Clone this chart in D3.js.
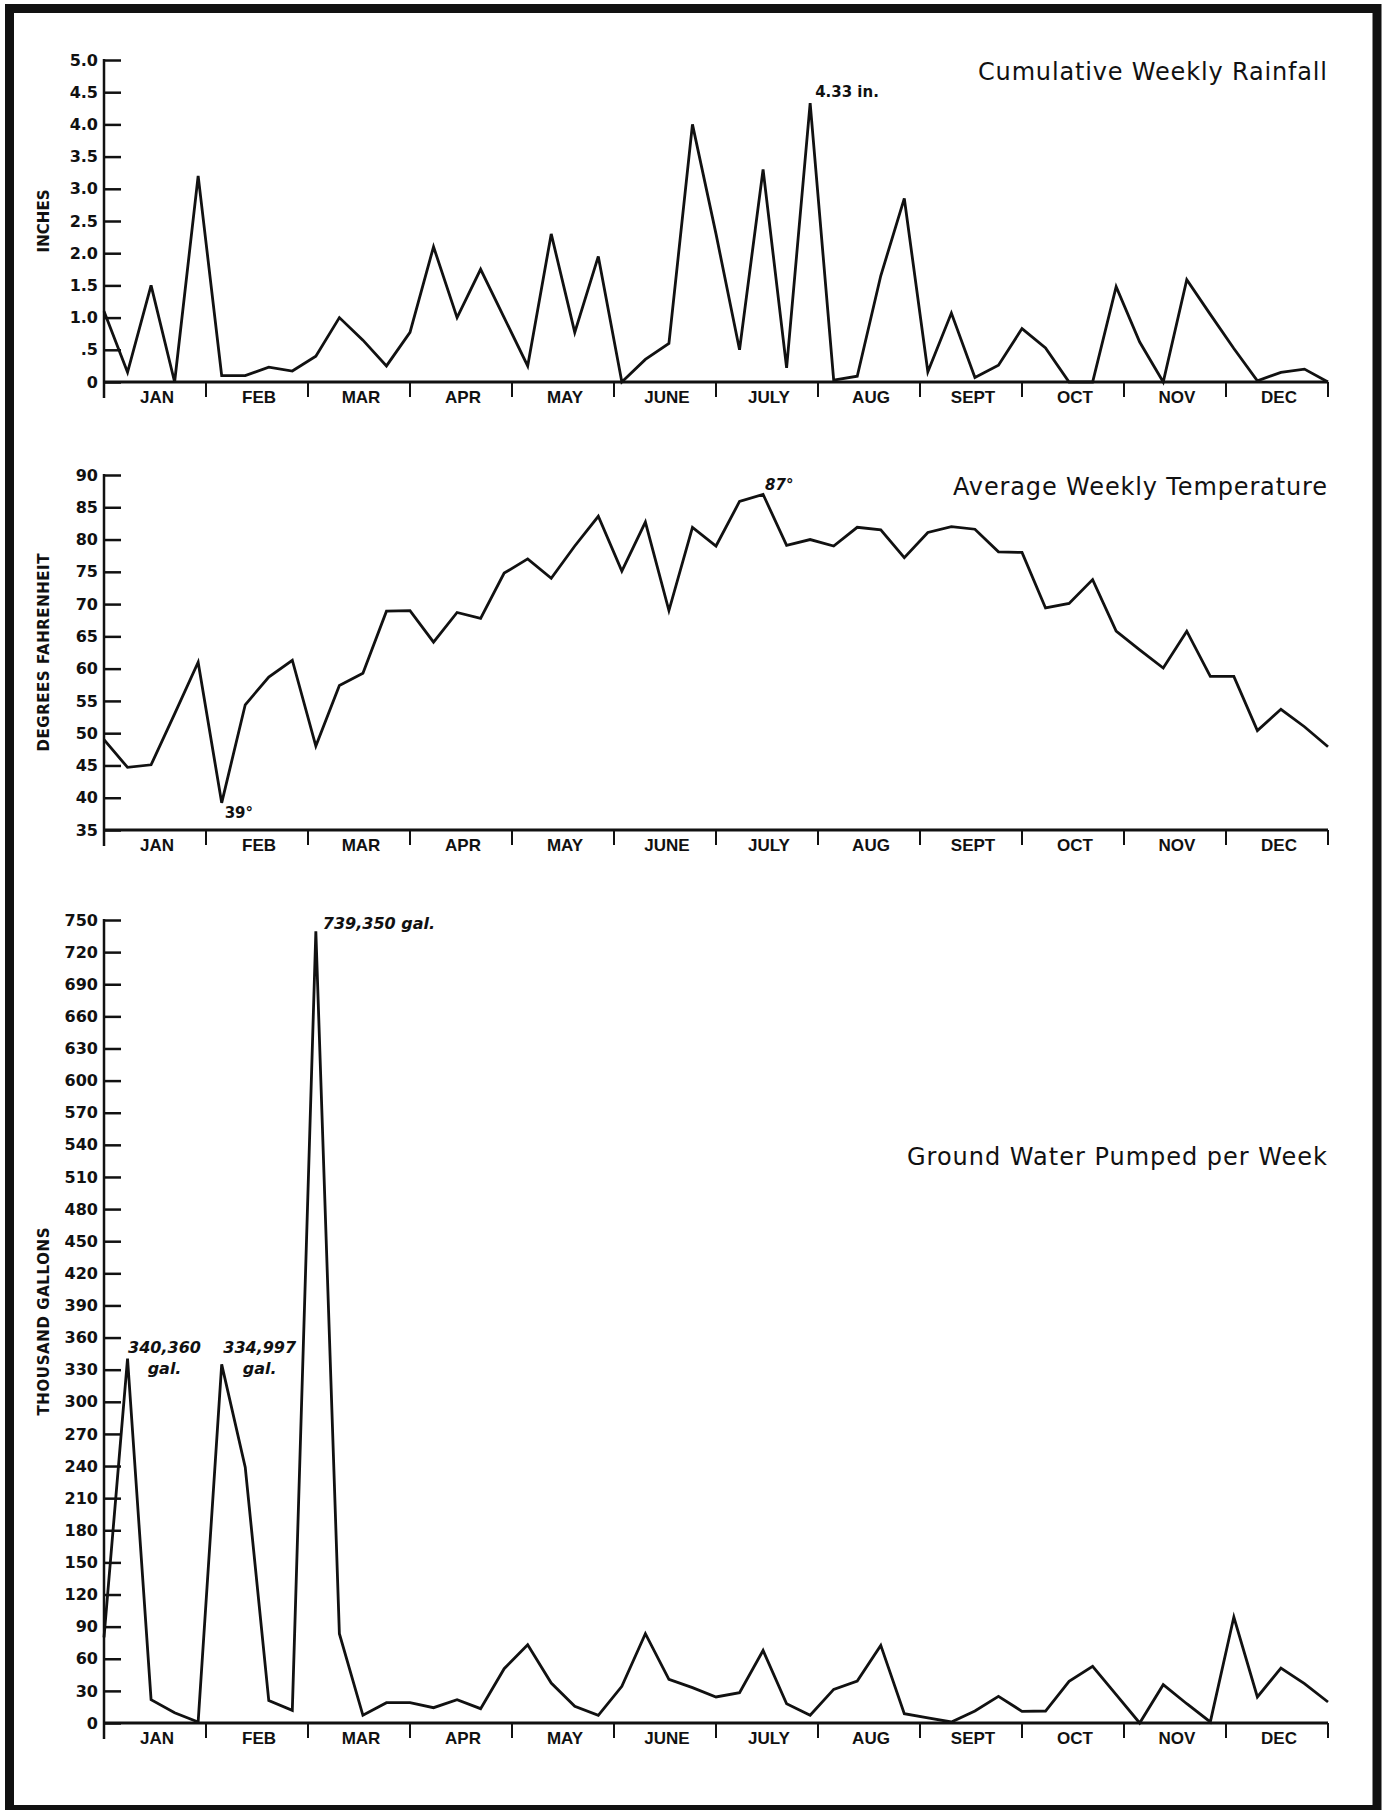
<!DOCTYPE html>
<html>
<head>
<meta charset="utf-8">
<script src="https://d3js.org/d3.v7.min.js"></script>
<style>
  body { margin: 0; background: #fff; }
  svg { display: block; }
  text { fill: #111; }
</style>
</head>
<body>
<svg id="chart" width="1385" height="1810"></svg>
<script>
// months along the bottom of every panel
var months = ["JAN", "FEB", "MAR", "APR", "MAY", "JUNE", "JULY", "AUG", "SEPT", "OCT", "NOV", "DEC"];

// weekly values, 53 points from the first of Jan to the end of Dec
var rainfall = [1.1, 0.15, 1.5, 0.0, 3.2, 0.1, 0.1, 0.23, 0.17, 0.4,
  1.0, 0.65, 0.25, 0.77, 2.1, 1.0, 1.75, 1.0, 0.25, 2.3,
  0.77, 1.95, 0.0, 0.35, 0.6, 4.0, 2.3, 0.5, 3.3, 0.22,
  4.33, 0.03, 0.09, 1.65, 2.85, 0.16, 1.07, 0.07, 0.26, 0.83,
  0.53, 0.0, 0.0, 1.48, 0.62, 0.0, 1.59, 1.05, 0.52, 0.02,
  0.15, 0.2, 0.0];

var temperature = [49, 44.7, 45.1, 53, 61, 39.2, 54.4, 58.7, 61.3, 48,
  57.4, 59.3, 68.9, 69, 64.1, 68.7, 67.8, 74.8, 77, 74,
  79, 83.6, 75.1, 82.7, 69, 81.9, 79, 85.9, 87, 79.1,
  80, 79, 81.9, 81.5, 77.2, 81.1, 82, 81.6, 78.1, 78,
  69.4, 70.1, 73.8, 65.8, 62.9, 60.1, 65.8, 58.8, 58.8, 50.4,
  53.7, 51, 47.9];

// thousand gallons
var pumped = [80, 340.36, 21.8, 9.6, 1, 334.997, 239, 21, 11.8, 739.35,
  83.4, 7.2, 19, 19, 14.3, 21.8, 13.4, 50.7, 73.1, 37.3,
  15.6, 7.2, 34.2, 83.4, 40.8, 33, 24.3, 28.3, 67.8, 18,
  7.2, 31.4, 39.2, 72.5, 8.7, 4.7, 1, 11.2, 24.9, 10.9,
  11.2, 38.9, 52.9, 26.5, 0, 35.8, 18, 1, 99, 24.3,
  51.3, 36.7, 19.6];

// tick values and their labels
var rainTicks = [0, 0.5, 1, 1.5, 2, 2.5, 3, 3.5, 4, 4.5, 5];
var rainLabels = ["0", ".5", "1.0", "1.5", "2.0", "2.5", "3.0", "3.5", "4.0", "4.5", "5.0"];
var tempTicks = [35, 40, 45, 50, 55, 60, 65, 70, 75, 80, 85, 90];
var pumpTicks = [0, 30, 60, 90, 120, 150, 180, 210, 240, 270, 300, 330, 360,
  390, 420, 450, 480, 510, 540, 570, 600, 630, 660, 690, 720, 750];

var svg = d3.select("#chart"),
    width = +svg.attr("width"),
    height = +svg.attr("height"),
    left = 104,
    right = 1328,
    ink = "#111";

// heavy frame round the page
svg.append("rect")
    .attr("x", 9.5)
    .attr("y", 8.5)
    .attr("width", 1367.5)
    .attr("height", 1801)
    .attr("fill", "none")
    .attr("stroke", ink)
    .attr("stroke-width", 9);

var x = d3.scaleLinear()
    .domain([0, rainfall.length - 1])
    .range([left, right]);

var xMonth = d3.scaleBand()
    .domain(months)
    .range([left, right]);

function panel(cfg) {
  var y = d3.scaleLinear()
      .domain([cfg.ticks[0], cfg.ticks[cfg.ticks.length - 1]])
      .range([cfg.bottom, cfg.top]);

  var g = svg.append("g");

  // y ticks point inward, labels to the left
  g.append("g")
      .attr("transform", "translate(" + left + ",0)")
      .call(d3.axisLeft(y)
          .tickValues(cfg.ticks)
          .tickFormat(function(d, i) { return cfg.labels ? cfg.labels[i] : d; })
          .tickSizeInner(-17)
          .tickSizeOuter(0)
          .tickPadding(6))
      .call(function(a) {
        a.select(".domain").remove();
        a.selectAll("line").attr("stroke", ink).attr("stroke-width", 2.5);
        a.selectAll("text")
            .attr("fill", ink)
            .attr("font-family", "'DejaVu Sans', sans-serif")
            .attr("font-weight", "bold")
            .attr("font-size", 16);
      });

  // axis lines
  g.append("line")
      .attr("x1", left).attr("x2", left)
      .attr("y1", cfg.top - 1).attr("y2", cfg.bottom + 16)
      .attr("stroke", ink).attr("stroke-width", 2.5);

  g.append("line")
      .attr("x1", left).attr("x2", right)
      .attr("y1", cfg.bottom).attr("y2", cfg.bottom)
      .attr("stroke", ink).attr("stroke-width", 3);

  // month separators below the axis
  g.append("g")
    .selectAll("line")
    .data(months.slice(1).concat(["end"]))
    .enter().append("line")
      .attr("x1", function(d) { return d == "end" ? right : xMonth(d); })
      .attr("x2", function(d) { return d == "end" ? right : xMonth(d); })
      .attr("y1", cfg.bottom)
      .attr("y2", cfg.bottom + 15)
      .attr("stroke", ink)
      .attr("stroke-width", 2);

  g.append("g")
    .selectAll("text")
    .data(months)
    .enter().append("text")
      .attr("x", function(d) { return xMonth(d) + xMonth.bandwidth() / 2 + 2; })
      .attr("y", cfg.bottom + 21)
      .attr("text-anchor", "middle")
      .attr("font-family", "'Liberation Sans', Arial, sans-serif")
      .attr("font-weight", "bold")
      .attr("font-size", 17)
      .text(function(d) { return d; });

  // the weekly line
  g.append("path")
      .datum(cfg.values)
      .attr("fill", "none")
      .attr("stroke", ink)
      .attr("stroke-width", 2.8)
      .attr("stroke-linejoin", "miter")
      .attr("d", d3.line()
          .x(function(d, i) { return x(i); })
          .y(function(d) { return y(d); }));

  // title at the top right
  g.append("text")
      .attr("x", right - 1)
      .attr("y", cfg.titleY)
      .attr("text-anchor", "end")
      .attr("font-family", "'DejaVu Sans', sans-serif")
      .attr("font-size", 24)
      .attr("textLength", cfg.titleLen)
      .attr("lengthAdjust", "spacing")
      .text(cfg.title);

  // rotated y label
  g.append("text")
      .attr("transform", "translate(44," + (cfg.top + cfg.bottom) / 2 + ")rotate(-90)")
      .attr("text-anchor", "middle")
      .attr("dy", "0.36em")
      .attr("font-family", "'DejaVu Sans', sans-serif")
      .attr("font-weight", "bold")
      .attr("font-size", 15)
      .attr("textLength", cfg.yLabelLen)
      .attr("lengthAdjust", "spacing")
      .text(cfg.yLabel);

  return y;
}

function note(lines, px, py, anchor, size, italic) {
  var t = svg.append("text")
      .attr("text-anchor", anchor)
      .attr("font-family", "'DejaVu Sans', sans-serif")
      .attr("font-weight", "bold")
      .attr("font-style", italic ? "italic" : "normal")
      .attr("font-size", size);
  lines.forEach(function(l, i) {
    t.append("tspan").attr("x", px).attr("y", py + i * 21).text(l);
  });
}

var yRain = panel({
  values: rainfall, ticks: rainTicks, labels: rainLabels,
  top: 60, bottom: 382,
  title: "Cumulative Weekly Rainfall", titleY: 80, titleLen: 349,
  yLabel: "INCHES", yLabelLen: 63
});

var yTemp = panel({
  values: temperature, ticks: tempTicks,
  top: 475, bottom: 830,
  title: "Average Weekly Temperature", titleY: 495, titleLen: 374,
  yLabel: "DEGREES  FAHRENHEIT", yLabelLen: 198
});

var yPump = panel({
  values: pumped, ticks: pumpTicks,
  top: 920, bottom: 1723,
  title: "Ground Water Pumped per Week", titleY: 1165, titleLen: 420,
  yLabel: "THOUSAND  GALLONS", yLabelLen: 188
});

// peak and low notes, placed next to their points
note(["4.33 in."], x(30) + 5, yRain(4.33) - 6, "start", 15, false);
note(["87°"], x(28) + 2, yTemp(87) - 4, "start", 15, true);
note(["39°"], x(5) + 3, yTemp(39.2) + 15, "start", 15, false);
note(["739,350 gal."], x(9) + 7, yPump(739.35) - 2, "start", 16, true);
note(["340,360", "gal."], x(1) + 37, yPump(340.36) - 6, "middle", 16, true);
note(["334,997", "gal."], x(5) + 38, yPump(334.997) - 11, "middle", 16, true);
</script>
</body>
</html>
